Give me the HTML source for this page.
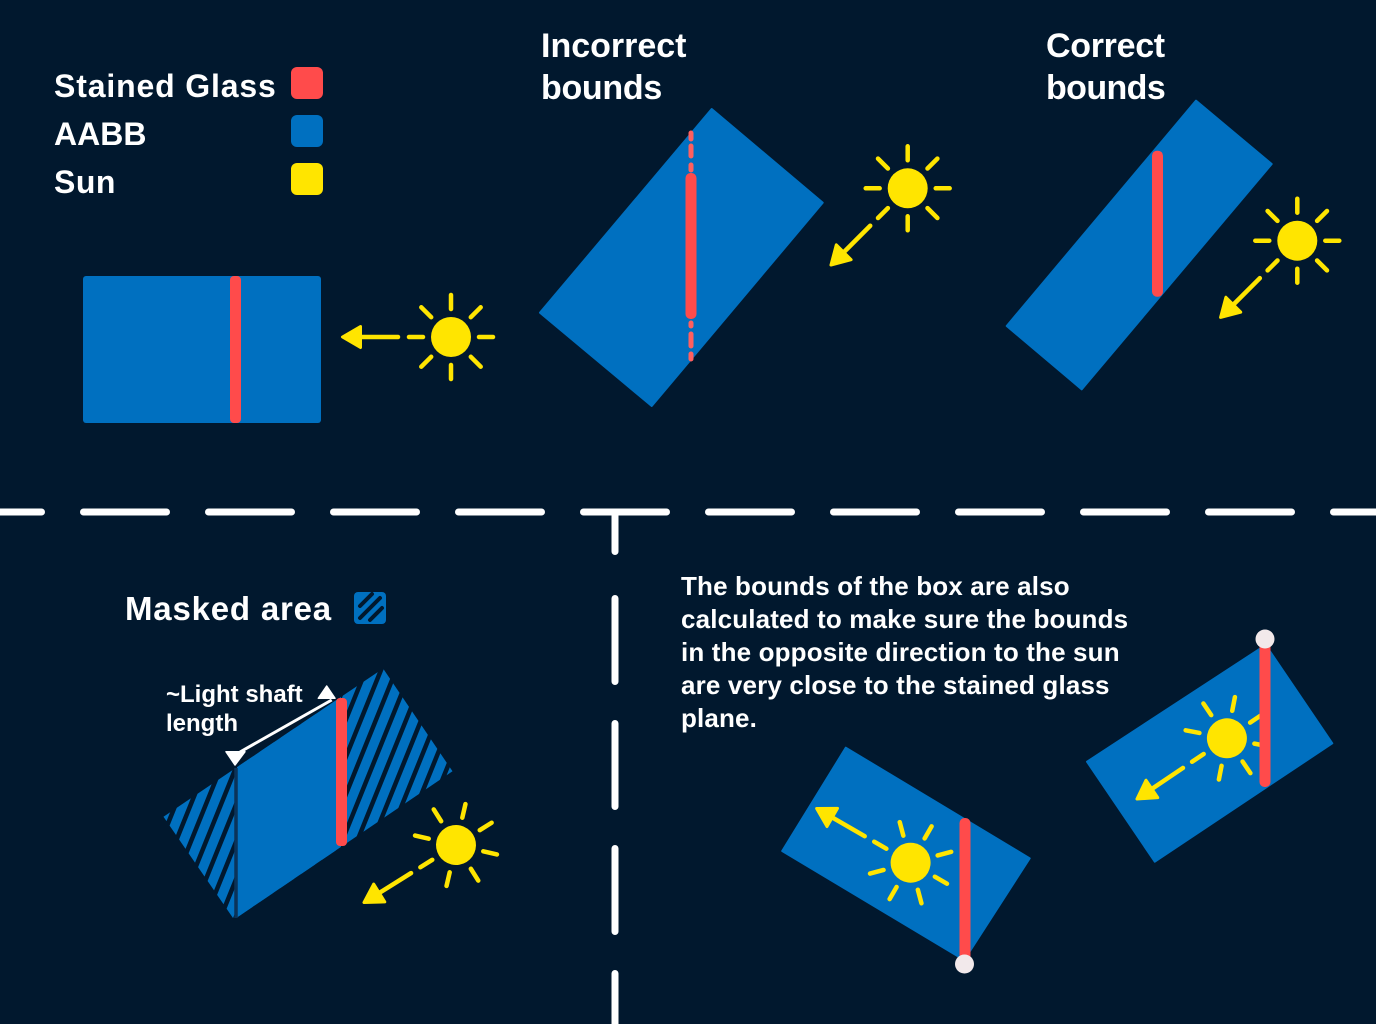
<!DOCTYPE html>
<html>
<head>
<meta charset="utf-8">
<style>
html,body{margin:0;padding:0;background:#01182e;}
svg{display:block;}
text{font-family:"Liberation Sans",Arial,sans-serif;font-weight:bold;fill:#ffffff;}
</style>
</head>
<body>
<svg width="1376" height="1024" viewBox="0 0 1376 1024" xmlns="http://www.w3.org/2000/svg">
<defs>
  <pattern id="hatch" patternUnits="userSpaceOnUse" width="14" height="14" patternTransform="rotate(22)">
    <rect x="0" y="0" width="14" height="14" fill="#0070c0"/>
    <rect x="0" y="0" width="4.5" height="14" fill="#01182e"/>
  </pattern>
  <clipPath id="iconclip"><rect x="354" y="592" width="32" height="32" rx="4"/></clipPath>
</defs>
<rect width="1376" height="1024" fill="#01182e"/>

<!-- Legend -->
<text x="54" y="97" font-size="32" letter-spacing="0.85">Stained Glass</text>
<text x="54" y="145" font-size="32">AABB</text>
<text x="54" y="193" font-size="32" letter-spacing="0.5">Sun</text>
<rect x="291" y="67" width="32" height="32" rx="6" fill="#ff4b4b"/>
<rect x="291" y="115" width="32" height="32" rx="6" fill="#0070c0"/>
<rect x="291" y="163" width="32" height="32" rx="6" fill="#ffe500"/>

<!-- Titles -->
<text x="541" y="57" font-size="34">Incorrect</text>
<text x="541" y="99" font-size="34" letter-spacing="-0.3">bounds</text>
<text x="1046" y="57" font-size="34" letter-spacing="-0.3">Correct</text>
<text x="1046" y="99" font-size="34" letter-spacing="-0.6">bounds</text>

<!-- Left box -->
<rect x="83" y="276" width="238" height="147" rx="3" fill="#0070c0"/>
<rect x="230" y="276" width="11" height="147" rx="4" fill="#ff4b4b"/>
<g transform="translate(451,337) rotate(180)">
  <circle r="20" fill="#ffe500"/>
  <path d="M28 0H42M19.8 19.8L29.7 29.7M0 28V42M-19.8 19.8L-29.7 29.7M-28 0H-42M-19.8 -19.8L-29.7 -29.7M0 -28V-42M19.8 -19.8L29.7 -29.7M53 0H92" stroke="#ffe500" stroke-width="4.5" stroke-linecap="round" fill="none"/>
  <path d="M108.5 0L90.5 -10.5L90.5 10.5Z" fill="#ffe500" stroke="#ffe500" stroke-width="3" stroke-linejoin="round"/>
</g>

<!-- Incorrect bounds box -->
<polygon points="711.7,109 822.7,202.7 651.7,406 540,312.7" fill="#0070c0" stroke="#0070c0" stroke-width="2" stroke-linejoin="round"/>
<path d="M691 133V139M691 146V156M691 165V170M691 323V326M691 334V346M691 354V359" stroke="#ff5f5f" stroke-width="5" stroke-linecap="round"/>
<rect x="685.5" y="173" width="11" height="146" rx="5" fill="#ff4b4b"/>
<g transform="translate(907.7,188.3) rotate(135)">
  <circle r="20" fill="#ffe500"/>
  <path d="M28 0H42M19.8 19.8L29.7 29.7M0 28V42M-19.8 19.8L-29.7 29.7M-28 0H-42M-19.8 -19.8L-29.7 -29.7M0 -28V-42M19.8 -19.8L29.7 -29.7M53 0H92" stroke="#ffe500" stroke-width="4.5" stroke-linecap="round" fill="none"/>
  <path d="M108.5 0L90.5 -10.5L90.5 10.5Z" fill="#ffe500" stroke="#ffe500" stroke-width="3" stroke-linejoin="round"/>
</g>

<!-- Correct bounds box -->
<polygon points="1196,100.7 1271.7,164 1081.7,389.3 1006.7,326" fill="#0070c0" stroke="#0070c0" stroke-width="2" stroke-linejoin="round"/>
<rect x="1152" y="150.7" width="11" height="146" rx="5" fill="#ff4b4b"/>
<g transform="translate(1297.3,240.7) rotate(135)">
  <circle r="20" fill="#ffe500"/>
  <path d="M28 0H42M19.8 19.8L29.7 29.7M0 28V42M-19.8 19.8L-29.7 29.7M-28 0H-42M-19.8 -19.8L-29.7 -29.7M0 -28V-42M19.8 -19.8L29.7 -29.7M53 0H92" stroke="#ffe500" stroke-width="4.5" stroke-linecap="round" fill="none"/>
  <path d="M108.5 0L90.5 -10.5L90.5 10.5Z" fill="#ffe500" stroke="#ffe500" stroke-width="3" stroke-linejoin="round"/>
</g>

<!-- Dividers -->
<line x1="-41.5" y1="512" x2="1420" y2="512" stroke="#ffffff" stroke-width="7" stroke-linecap="round" stroke-dasharray="83 42"/>
<line x1="615" y1="515.5" x2="615" y2="551.5" stroke="#ffffff" stroke-width="7" stroke-linecap="round"/>
<line x1="615" y1="598.5" x2="615" y2="1060" stroke="#ffffff" stroke-width="7" stroke-linecap="round" stroke-dasharray="83 42"/>

<!-- Masked area -->
<text x="125" y="620" font-size="33" letter-spacing="0.8">Masked area</text>
<rect x="354" y="592" width="32" height="32" rx="4" fill="#0070c0"/>
<g clip-path="url(#iconclip)" stroke="#01182e" stroke-width="4" stroke-linecap="round">
  <line x1="360" y1="606" x2="372" y2="594"/>
  <line x1="360" y1="618" x2="380" y2="598"/>
  <line x1="370" y1="620" x2="382" y2="608"/>
</g>
<polygon points="163.5,816.7 383.1,668.5 452.5,771.3 234,919.5" fill="url(#hatch)"/>
<polygon points="237,767.1 341,696.9 341,846.9 237,917.5" fill="#0070c0"/>
<line x1="236" y1="768" x2="236" y2="918" stroke="#0b3359" stroke-width="3.5"/>
<rect x="336" y="698" width="11" height="148" rx="4" fill="#ff4b4b"/>
<line x1="240" y1="752" x2="331.7" y2="700" stroke="#ffffff" stroke-width="3"/>
<polygon points="226,751.7 245,751.7 235,765" fill="#ffffff" stroke="#ffffff" stroke-width="1.5" stroke-linejoin="round"/>
<polygon points="318.3,698.3 335,698.3 326.7,686" fill="#ffffff" stroke="#ffffff" stroke-width="1.5" stroke-linejoin="round"/>
<text x="166" y="702" font-size="24">~Light shaft</text>
<text x="166" y="731" font-size="24">length</text>
<g transform="translate(456,845) rotate(148)">
  <circle r="20" fill="#ffe500"/>
  <path d="M28 0H42M19.8 19.8L29.7 29.7M0 28V42M-19.8 19.8L-29.7 29.7M-28 0H-42M-19.8 -19.8L-29.7 -29.7M0 -28V-42M19.8 -19.8L29.7 -29.7M53 0H92" stroke="#ffe500" stroke-width="4.5" stroke-linecap="round" fill="none"/>
  <path d="M108.5 0L90.5 -10.5L90.5 10.5Z" fill="#ffe500" stroke="#ffe500" stroke-width="3" stroke-linejoin="round"/>
</g>

<!-- Paragraph -->
<text x="681" y="595" font-size="26" letter-spacing="0.15">The bounds of the box are also</text>
<text x="681" y="628" font-size="26" letter-spacing="0.15">calculated to make sure the bounds</text>
<text x="681" y="661" font-size="26" letter-spacing="0.15">in the opposite direction to the sun</text>
<text x="681" y="694" font-size="26" letter-spacing="0.15">are very close to the stained glass</text>
<text x="681" y="727" font-size="26" letter-spacing="0.15">plane.</text>

<!-- Bottom-left rotated box -->
<polygon points="845.8,747.7 1029.7,858.3 964.2,960 782.2,851" fill="#0070c0" stroke="#0070c0" stroke-width="2" stroke-linejoin="round"/>
<g transform="translate(910.6,862.7) rotate(210)">
  <circle r="20" fill="#ffe500"/>
  <path d="M28 0H42M19.8 19.8L29.7 29.7M0 28V42M-19.8 19.8L-29.7 29.7M-28 0H-42M-19.8 -19.8L-29.7 -29.7M0 -28V-42M19.8 -19.8L29.7 -29.7M53 0H92" stroke="#ffe500" stroke-width="4.5" stroke-linecap="round" fill="none"/>
  <path d="M108.5 0L90.5 -10.5L90.5 10.5Z" fill="#ffe500" stroke="#ffe500" stroke-width="3" stroke-linejoin="round"/>
</g>
<rect x="959.5" y="818" width="11" height="144" rx="5" fill="#ff4b4b"/>
<circle cx="964.5" cy="964" r="9.5" fill="#f2e9eb"/>

<!-- Bottom-right rotated box -->
<polygon points="1265.7,645 1332.3,743.3 1154.8,861.7 1087,761.7" fill="#0070c0" stroke="#0070c0" stroke-width="2" stroke-linejoin="round"/>
<g transform="translate(1226.9,738.3) rotate(146)">
  <circle r="20" fill="#ffe500"/>
  <path d="M28 0H42M19.8 19.8L29.7 29.7M0 28V42M-19.8 19.8L-29.7 29.7M-28 0H-42M-19.8 -19.8L-29.7 -29.7M0 -28V-42M19.8 -19.8L29.7 -29.7M53 0H92" stroke="#ffe500" stroke-width="4.5" stroke-linecap="round" fill="none"/>
  <path d="M108.5 0L90.5 -10.5L90.5 10.5Z" fill="#ffe500" stroke="#ffe500" stroke-width="3" stroke-linejoin="round"/>
</g>
<rect x="1259.5" y="640" width="11" height="147" rx="5" fill="#ff4b4b"/>
<circle cx="1265" cy="639" r="9.5" fill="#f2e9eb"/>
</svg>
</body>
</html>
